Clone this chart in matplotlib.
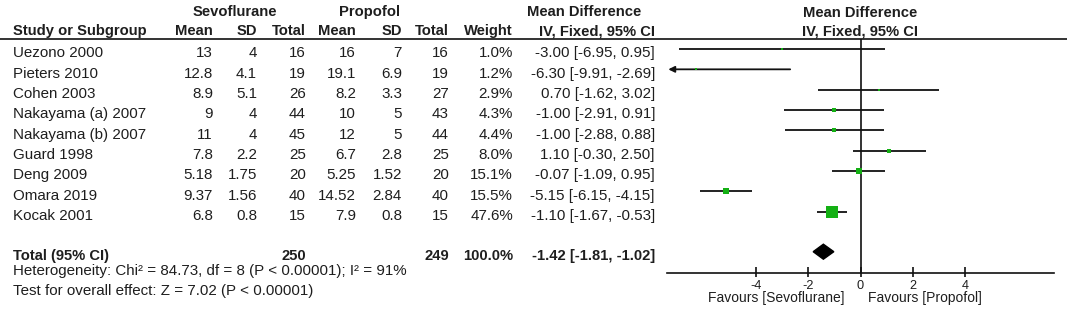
import numpy as np
import matplotlib
matplotlib.use("Agg")
import matplotlib.pyplot as plt

plt.rcParams["font.family"] = ["Liberation Sans", "DejaVu Sans"]
plt.rcParams["axes.unicode_minus"] = False

# ── Data ────────────────────────────────────────────────────────────
studies = ["Uezono 2000", "Pieters 2010", "Cohen 2003", "Nakayama (a) 2007",
           "Nakayama (b) 2007", "Guard 1998", "Deng 2009", "Omara 2019", "Kocak 2001"]
sevo_mean = ["13", "12.8", "8.9", "9", "11", "7.8", "5.18", "9.37", "6.8"]
sevo_sd = ["4", "4.1", "5.1", "4", "4", "2.2", "1.75", "1.56", "0.8"]
sevo_n = [16, 19, 26, 44, 45, 25, 20, 40, 15]
prop_mean = ["16", "19.1", "8.2", "10", "12", "6.7", "5.25", "14.52", "7.9"]
prop_sd = ["7", "6.9", "3.3", "5", "5", "2.8", "1.52", "2.84", "0.8"]
prop_n = [16, 19, 27, 43, 44, 25, 20, 40, 15]
weight = [1.0, 1.2, 2.9, 4.3, 4.4, 8.0, 15.1, 15.5, 47.6]
md = [-3.00, -6.30, 0.70, -1.00, -1.00, 1.10, -0.07, -5.15, -1.10]
ci_lo = [-6.95, -9.91, -1.62, -2.91, -2.88, -0.30, -1.09, -6.15, -1.67]
ci_hi = [0.95, -2.69, 3.02, 0.91, 0.88, 2.50, 0.95, -4.15, -0.53]

total_md, total_lo, total_hi = -1.42, -1.81, -1.02
total_sevo, total_prop = 250, 249
het_text = "Heterogeneity: Chi² = 84.73, df = 8 (P < 0.00001); I² = 91%"
effect_text = "Test for overall effect: Z = 7.02 (P < 0.00001)"
xticks = [-4, -2, 0, 2, 4]
XLIM = (-7.4, 7.4)

# ── Layout (pixels) ─────────────────────────────────────────────────
W, H = 1067, 319
ROW0, DY = 57.3, 20.33       # baseline of first study row, row pitch
MARK_OFF = 8.3               # forest marks sit a bit above text baseline
TOTAL_BASE = 260
AXIS_Y = 272.7
HEAD_LINE = 39
FS = 10.9                    # regular text
FSB = 10.6                   # bold text
TXT = "#1e1e1e"
INK = "#111111"
GREEN = "#14b014"

fig = plt.figure(figsize=(W / 100, H / 100), dpi=100)
fig.patch.set_facecolor("white")

tab = fig.add_axes([0, 0, 1, 1])
tab.set_xlim(0, W)
tab.set_ylim(H, 0)
tab.axis("off")

def put(x, y, s, ha="right", bold=False):
    tab.text(x, y, s, ha=ha, va="baseline", fontsize=FSB if bold else FS,
             color=TXT, fontweight="bold" if bold else "normal")

# headers
put(235, 16, "Sevoflurane", ha="center", bold=True)
put(369, 16, "Propofol", ha="center", bold=True)
put(584, 16, "Mean Difference", ha="center", bold=True)
put(860, 16.7, "Mean Difference", ha="center", bold=True)
put(860, 36, "IV, Fixed, 95% CI", ha="center", bold=True)

cols = [213, 257, 306, 356, 402, 449, 513, 655]
heads = ["Mean", "SD", "Total", "Mean", "SD", "Total", "Weight", "IV, Fixed, 95% CI"]
put(13, 35, "Study or Subgroup", ha="left", bold=True)
for x, h in zip(cols, heads):
    put(x, 35, h, bold=True)

tab.hlines(HEAD_LINE, 0, W, color=INK, lw=1.2)

# study rows
for i, name in enumerate(studies):
    y = ROW0 + i * DY
    vals = [sevo_mean[i], sevo_sd[i], str(sevo_n[i]), prop_mean[i], prop_sd[i],
            str(prop_n[i]), f"{weight[i]:.1f}%",
            f"{md[i]:.2f} [{ci_lo[i]:.2f}, {ci_hi[i]:.2f}]"]
    put(13, y, name, ha="left")
    for x, v in zip(cols, vals):
        put(x, y, v)

# totals
put(13, TOTAL_BASE, "Total (95% CI)", ha="left", bold=True)
put(cols[2], TOTAL_BASE, str(total_sevo), bold=True)
put(cols[5], TOTAL_BASE, str(total_prop), bold=True)
put(cols[6], TOTAL_BASE, f"{sum(weight):.1f}%", bold=True)
put(cols[7], TOTAL_BASE, f"{total_md:.2f} [{total_lo:.2f}, {total_hi:.2f}]", bold=True)
put(13, 275, het_text, ha="left")
put(13, 295, effect_text, ha="left")

# ── Forest plot ─────────────────────────────────────────────────────
x0, x1 = 667, 1054
ax = fig.add_axes([x0 / W, 0, (x1 - x0) / W, 1])
ax.set_xlim(XLIM)
ax.set_ylim(H, 0)
ax.patch.set_alpha(0)
for s in ["top", "left", "right"]:
    ax.spines[s].set_visible(False)
ax.spines["bottom"].set_position(("data", AXIS_Y))
ax.spines["bottom"].set_linewidth(1.2)
ax.spines["bottom"].set_color(INK)
ax.set_yticks([])
ax.set_xticks(xticks)
ax.set_xticklabels([str(t) for t in xticks])
ax.tick_params(axis="x", length=0, labelsize=9.2, labelcolor=TXT, pad=5.6)
ax.vlines(xticks, AXIS_Y - 6, AXIS_Y + 4, color=INK, lw=1.2)

ax.vlines(0, HEAD_LINE, AXIS_Y, color=INK, lw=1.2)

for i in range(len(studies)):
    y = ROW0 + i * DY - MARK_OFF
    if ci_lo[i] < XLIM[0]:
        ax.annotate("", xy=(XLIM[0] + 0.05, y), xytext=(ci_hi[i], y),
                    arrowprops=dict(arrowstyle="-|>", lw=1.3, color=INK,
                                    mutation_scale=9, shrinkA=0, shrinkB=0))
    else:
        ax.hlines(y, ci_lo[i], ci_hi[i], color=INK, lw=1.3)
    side_px = max(2.8, 1.6 * np.sqrt(weight[i]))
    ax.plot(md[i], y, marker="s", ms=side_px * 0.72, color=GREEN, mec=GREEN,
            mew=0, zorder=3)

yd = TOTAL_BASE - MARK_OFF
ax.fill([total_lo, total_md, total_hi, total_md], [yd, yd - 7.5, yd, yd + 7.5],
        color="black", zorder=3)

ax.text(-0.6, 302, "Favours [Sevoflurane]", ha="right", va="baseline",
        fontsize=10.0, color=TXT)
ax.text(0.3, 302, "Favours [Propofol]", ha="left", va="baseline",
        fontsize=10.0, color=TXT)

fig.savefig("out.png", dpi=100)
